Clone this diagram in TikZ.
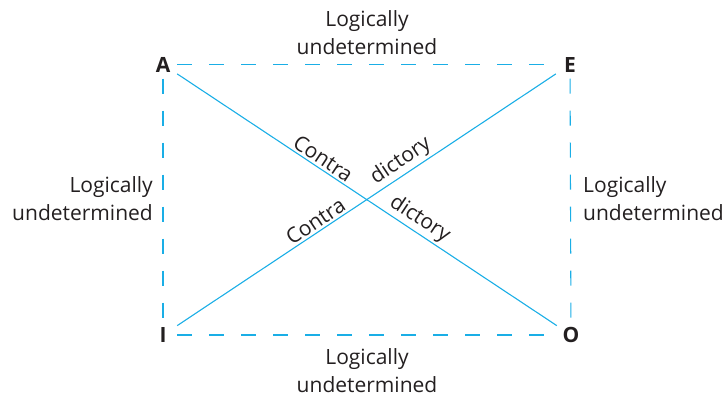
\documentclass[tikz,border=0pt]{standalone}
\usepackage{fontspec}
\setmainfont{Open Sans}
\usetikzlibrary{positioning}
\definecolor{LineCyan}{HTML}{1AAEE6}
\definecolor{TextGrey}{HTML}{231F20}

\begin{document}
\begin{tikzpicture}[x=1pt, y=1pt,
    font=\fontsize{21}{28}\selectfont, text=TextGrey,
    corner/.style={font=\fontsize{21}{28}\selectfont\bfseries, inner sep=0pt,
                   minimum width=28pt, minimum height=28pt},
    note/.style={inner sep=0pt},
    dashline/.style={draw=LineCyan, line width=1.1pt, dash pattern=on 15pt off 17pt},
    diag/.style={draw=LineCyan, line width=1.1pt},
    along/.style={sloped, above, inner sep=2pt, text=TextGrey},
  ]
    \useasboundingbox (0,0) rectangle (727,-397);
    % ---- corners ----
    \node[corner] (A) at (163,-64.5) {A};
    \node[corner] (E) at (570,-64.5) {E};
    \node[corner] (I) at (163,-335)  {I};
    \node[corner] (O) at (571,-335)  {O};
    % ---- sides ----
    \draw[dashline] (A) -- (E);
    \draw[dashline] (I) -- (O);
    \draw[dashline] (A) -- (I);
    \draw[dashline] (E) -- (O);
    % ---- diagonals ----
    \draw[diag] (A) -- (O)
      node[along, pos=0.37] (c1) {Contra}
      node[along, pos=0.62] (d1) {dictory};
    \draw[diag] (I) -- (E)
      node[along, pos=0.38] (c2) {Contra}
      node[along, pos=0.61] (d2) {dictory};
    % ---- side labels ----
    \node[note, align=center]          (top)    at (367,-33)  {Logically\\undetermined};
    \node[note, align=center]          (bottom) at (367,-371) {Logically\\undetermined};
    \node[note, align=right, anchor=east] (left)  at (153,-199) {Logically\\undetermined};
    \node[note, align=left, anchor=west]  (right) at (583,-199) {Logically\\undetermined};
\end{tikzpicture}
\end{document}
